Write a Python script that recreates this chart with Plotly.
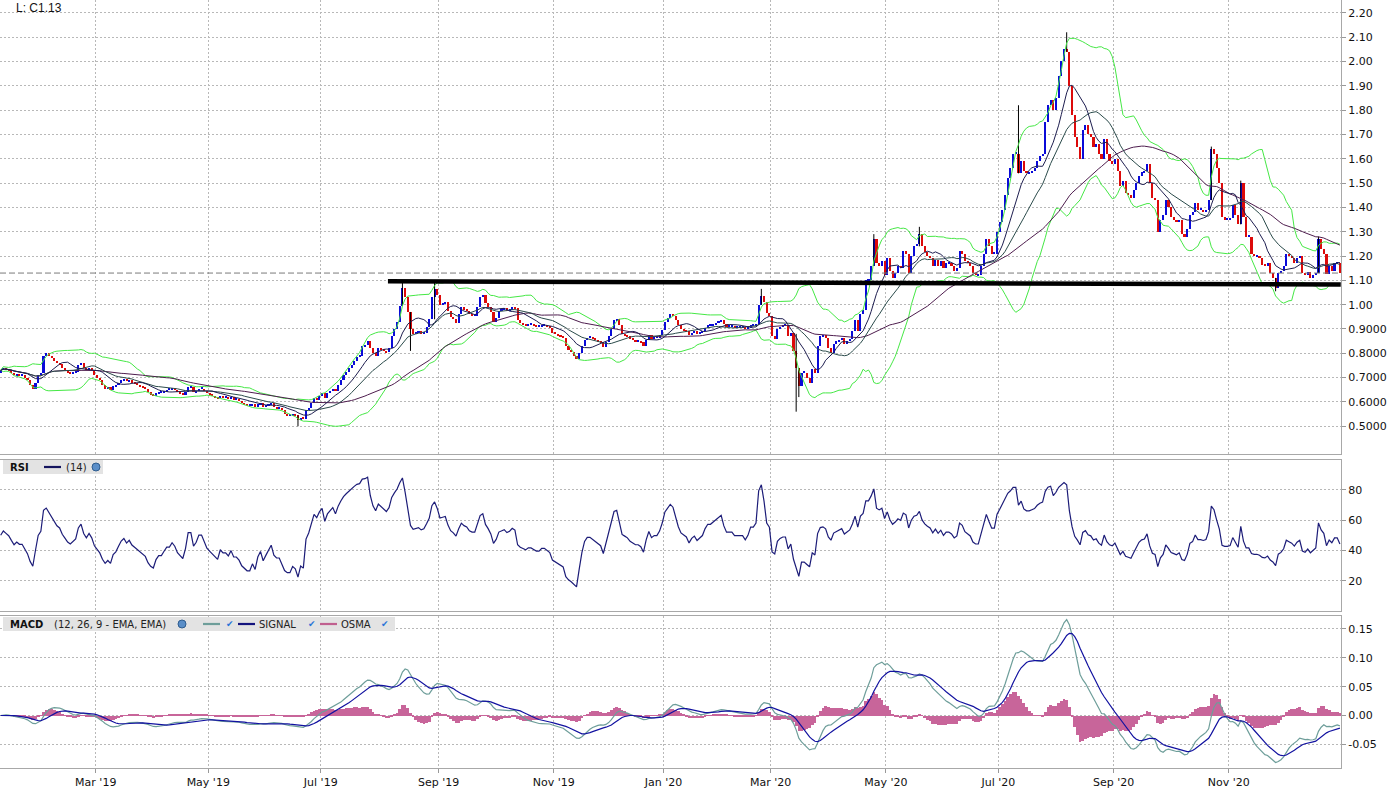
import numpy as np
import pandas as pd
import plotly.graph_objects as go
from plotly.subplots import make_subplots

# ---------------- data (daily closes) ----------------
close_2019_01 = [0.73, 0.74, 0.735, 0.73, 0.72, 0.71, 0.715, 0.71, 0.71, 0.70, 0.69, 0.67, 0.655, 0.68, 0.71, 0.72, 0.79]
close_2019_02 = [0.80, 0.79, 0.78, 0.77, 0.76, 0.755, 0.74, 0.73, 0.72, 0.715, 0.72, 0.725, 0.75, 0.76, 0.74, 0.73, 0.74, 0.73, 0.71]
close_2019_03 = [0.70, 0.69, 0.67, 0.655, 0.66, 0.65, 0.665, 0.67, 0.68, 0.69, 0.695, 0.685, 0.69, 0.68, 0.675, 0.67, 0.665, 0.66, 0.655, 0.64, 0.63]
close_2019_04 = [0.625, 0.635, 0.64, 0.64, 0.645, 0.65, 0.65, 0.655, 0.65, 0.64, 0.635, 0.63, 0.64, 0.66, 0.66, 0.64, 0.645, 0.655, 0.655, 0.645, 0.635]
close_2019_05 = [0.63, 0.625, 0.62, 0.615, 0.625, 0.62, 0.62, 0.615, 0.62, 0.61, 0.61, 0.605, 0.595, 0.59, 0.585, 0.585, 0.59, 0.58, 0.59, 0.595, 0.58, 0.585]
close_2019_06 = [0.59, 0.595, 0.58, 0.575, 0.575, 0.565, 0.55, 0.545, 0.545, 0.55, 0.545, 0.525, 0.535, 0.53, 0.565, 0.575, 0.595, 0.615, 0.61, 0.625]
close_2019_07 = [0.635, 0.615, 0.635, 0.645, 0.655, 0.645, 0.67, 0.69, 0.71, 0.725, 0.74, 0.75, 0.77, 0.785, 0.79, 0.83, 0.835, 0.85, 0.82, 0.80, 0.79, 0.82]
close_2019_08 = [0.815, 0.81, 0.805, 0.82, 0.87, 0.90, 0.93, 0.995, 1.07, 1.03, 0.97, 0.90, 0.88, 0.885, 0.89, 0.88, 0.885, 0.91, 0.94, 1.03, 1.065, 1.04]
close_2019_09 = [1.00, 1.005, 1.01, 0.975, 0.95, 0.94, 0.925, 0.96, 0.99, 0.98, 0.975, 0.96, 0.955, 0.955, 0.99, 1.03, 1.04, 1.005, 0.99, 0.97]
close_2019_10 = [0.93, 0.945, 0.975, 0.98, 0.985, 0.975, 0.98, 0.99, 0.985, 0.935, 0.925, 0.92, 0.915, 0.92, 0.92, 0.915, 0.91, 0.91, 0.915, 0.915, 0.91, 0.905, 0.885]
close_2019_11 = [0.88, 0.875, 0.87, 0.865, 0.83, 0.815, 0.805, 0.79, 0.775, 0.80, 0.83, 0.855, 0.865, 0.865, 0.86, 0.855, 0.85, 0.845, 0.825, 0.845]
close_2019_12 = [0.87, 0.90, 0.935, 0.94, 0.915, 0.88, 0.875, 0.87, 0.86, 0.855, 0.85, 0.85, 0.845, 0.83, 0.855, 0.875, 0.86, 0.865, 0.865, 0.875, 0.895]
close_2020_01 = [0.93, 0.945, 0.96, 0.955, 0.935, 0.915, 0.90, 0.895, 0.89, 0.875, 0.885, 0.89, 0.88, 0.885, 0.89, 0.905, 0.915, 0.915, 0.92, 0.925, 0.93]
close_2020_02 = [0.935, 0.92, 0.91, 0.91, 0.91, 0.905, 0.905, 0.905, 0.905, 0.90, 0.905, 0.915, 0.915, 0.92, 1.00, 1.035, 1.01, 0.965, 0.955]
close_2020_03 = [0.87, 0.86, 0.90, 0.91, 0.915, 0.915, 0.87, 0.885, 0.81, 0.74, 0.665, 0.72, 0.72, 0.70, 0.68, 0.735, 0.72, 0.83, 0.87, 0.875, 0.865, 0.82]
close_2020_04 = [0.80, 0.84, 0.85, 0.855, 0.865, 0.84, 0.85, 0.86, 0.89, 0.935, 0.89, 0.96, 0.98, 1.10, 1.10, 1.16, 1.27, 1.17, 1.16, 1.18, 1.12]
close_2020_05 = [1.19, 1.14, 1.11, 1.13, 1.16, 1.15, 1.22, 1.21, 1.13, 1.20, 1.24, 1.25, 1.29, 1.24, 1.215, 1.20, 1.19, 1.16, 1.185, 1.16]
close_2020_06 = [1.18, 1.15, 1.17, 1.17, 1.16, 1.14, 1.15, 1.22, 1.21, 1.18, 1.17, 1.16, 1.13, 1.12, 1.12, 1.16, 1.21, 1.27, 1.24, 1.21, 1.21, 1.30]
close_2020_07 = [1.34, 1.39, 1.45, 1.52, 1.56, 1.62, 1.62, 1.54, 1.59, 1.55, 1.54, 1.54, 1.55, 1.56, 1.59, 1.61, 1.62, 1.75, 1.82, 1.84, 1.80, 1.85]
close_2020_08 = [1.94, 2.00, 2.05, 2.04, 1.90, 1.78, 1.69, 1.65, 1.60, 1.72, 1.74, 1.70, 1.69, 1.65, 1.66, 1.62, 1.60, 1.68, 1.62, 1.59, 1.58]
close_2020_09 = [1.60, 1.55, 1.49, 1.51, 1.46, 1.45, 1.44, 1.47, 1.50, 1.53, 1.545, 1.55, 1.58, 1.50, 1.44, 1.43, 1.30, 1.35, 1.37, 1.43, 1.40]
close_2020_10 = [1.36, 1.35, 1.34, 1.35, 1.29, 1.28, 1.31, 1.37, 1.38, 1.42, 1.39, 1.39, 1.385, 1.39, 1.43, 1.64, 1.62, 1.56, 1.50, 1.36, 1.35, 1.35]
close_2020_11 = [1.355, 1.41, 1.37, 1.33, 1.50, 1.36, 1.28, 1.28, 1.21, 1.20, 1.20, 1.19, 1.165, 1.16, 1.17, 1.13, 1.11, 1.07, 1.13, 1.14]
close_2020_12 = [1.16, 1.21, 1.20, 1.19, 1.17, 1.19, 1.20, 1.13, 1.12, 1.135, 1.11, 1.12, 1.13, 1.27, 1.23, 1.21, 1.125, 1.16, 1.14, 1.17, 1.17, 1.13]

first_open = 0.72

# notable wicks: date, low, high
wick_dates = ["2019-06-18", "2019-08-13", "2019-08-16", "2019-08-29", "2020-02-25", "2020-03-13",
              "2020-03-16", "2020-04-24", "2020-05-19", "2020-07-13", "2020-08-06", "2020-10-22",
              "2020-11-06", "2020-11-25", "2020-12-18"]
wick_lows = [0.50, 0.995, 0.81, 0.94, 1.00, 0.56, 0.62, 1.16, 1.24, 1.54, 2.04, 1.43, 1.33, 1.055, 1.13]
wick_highs = [0.545, 1.10, 0.97, 1.09, 1.065, 0.88, 0.74, 1.29, 1.32, 1.82, 2.12, 1.65, 1.51, 1.11, 1.28]

# hand-drawn support line
trend_dates = ["2019-08-06 02:00", "2020-12-31 20:00"]
trend_values = [1.096, 1.083]

market_holidays = ["2019-01-21", "2019-02-18", "2019-04-19", "2019-05-27", "2019-07-04", "2019-09-02",
                   "2019-11-28", "2019-12-25", "2020-01-01", "2020-01-20", "2020-02-17", "2020-04-10",
                   "2020-05-25", "2020-07-03", "2020-09-07", "2020-11-26", "2020-12-25", "2021-01-01"]

price_ticks = [0.5, 0.6, 0.7, 0.8, 0.9, 1.0, 1.1, 1.2, 1.3, 1.4, 1.5, 1.6, 1.7, 1.8, 1.9, 2.0, 2.1, 2.2]
price_tick_text = ["0.5000", "0.6000", "0.7000", "0.8000", "0.9000", "1.00", "1.10", "1.20", "1.30",
                   "1.40", "1.50", "1.60", "1.70", "1.80", "1.90", "2.00", "2.10", "2.20"]
rsi_ticks = [20, 40, 60, 80]
macd_ticks = [-0.05, 0.0, 0.05, 0.10, 0.15]
macd_tick_text = ["-0.05", "0.00", "0.05", "0.10", "0.15"]

# ---------------- build series ----------------
closes = np.array(close_2019_01 + close_2019_02 + close_2019_03 + close_2019_04 + close_2019_05 +
                  close_2019_06 + close_2019_07 + close_2019_08 + close_2019_09 + close_2019_10 +
                  close_2019_11 + close_2019_12 + close_2020_01 + close_2020_02 + close_2020_03 +
                  close_2020_04 + close_2020_05 + close_2020_06 + close_2020_07 + close_2020_08 +
                  close_2020_09 + close_2020_10 + close_2020_11 + close_2020_12)
trade_days = pd.bdate_range("2019-01-08", "2021-03-31", freq="C", holidays=market_holidays)
dates = trade_days[:len(closes)] + pd.Timedelta(hours=12)
opens = np.concatenate([[first_open], closes[:-1]])

s = pd.Series(closes)
ma10 = s.rolling(10, min_periods=1).mean()
ma20 = s.rolling(20, min_periods=1).mean()
ma50 = s.rolling(50, min_periods=1).mean()
sd20 = s.rolling(20, min_periods=1).std(ddof=0)
bb_up = ma20 + 2 * sd20
bb_lo = ma20 - 2 * sd20

# RSI (Wilder, 14) - warm-up seeded with the average absolute move of the first weeks
d = np.diff(closes, prepend=closes[0])
seed = np.mean(np.abs(d[1:21])) / 2
ag, al = seed, seed
rsi_vals = []
for v in d:
    ag = (ag * 13 + max(v, 0)) / 14
    al = (al * 13 + max(-v, 0)) / 14
    rsi_vals.append(100 - 100 / (1 + ag / al) if al > 0 else 100)
rsi = np.array(rsi_vals)

ema12 = s.ewm(span=12, adjust=False).mean()
ema26 = s.ewm(span=26, adjust=False).mean()
macd = ema12 - ema26
signal = macd.ewm(span=9, adjust=False).mean()
osma = macd - signal

UP, DOWN = "#0a0ad8", "#dc0a0a"
body_base = np.minimum(opens, closes)
body_h = np.maximum(np.abs(closes - opens), 0.004)
body_col = [UP if c >= o else DOWN for o, c in zip(opens, closes)]

DAY = 86400000

fig = make_subplots(rows=3, cols=1, shared_xaxes=True)

# wicks
wx, wy = [], []
for dd, lo, hi in zip(wick_dates, wick_lows, wick_highs):
    t = pd.Timestamp(dd) + pd.Timedelta(hours=12)
    wx += [t, t, None]
    wy += [lo, hi, None]
fig.add_trace(go.Scatter(x=wx, y=wy, mode="lines", line=dict(color="#000000", width=1),
                         hoverinfo="skip", showlegend=False), row=1, col=1)
# candle bodies
fig.add_trace(go.Bar(x=dates, y=body_h, base=body_base, marker=dict(color=body_col, line=dict(width=0)),
                     width=0.78 * DAY, showlegend=False), row=1, col=1)
# bands and averages
for ser, col in [(bb_up, "#45e845"), (bb_lo, "#45e845"), (ma50, "#4e1d4e"), (ma20, "#2b4b4b"), (ma10, "#1e1e50")]:
    fig.add_trace(go.Scatter(x=dates, y=ser, mode="lines", line=dict(color=col, width=1),
                             showlegend=False, hoverinfo="skip"), row=1, col=1)

# RSI
fig.add_trace(go.Scatter(x=dates, y=rsi, mode="lines", line=dict(color="#1c1c78", width=1.2),
                         showlegend=False), row=2, col=1)

# MACD
fig.add_trace(go.Bar(x=dates, y=osma, marker=dict(color="#c8659a", line=dict(width=0)),
                     width=1.0 * DAY, showlegend=False), row=3, col=1)
fig.add_trace(go.Scatter(x=dates, y=macd, mode="lines", line=dict(color="#6e9e9a", width=1.2),
                         showlegend=False), row=3, col=1)
fig.add_trace(go.Scatter(x=dates, y=signal, mode="lines", line=dict(color="#1212a0", width=1.2),
                         showlegend=False), row=3, col=1)

W, H = 1394, 793
ML, MR, MT, MB = 0, 53, 0, 25
PW = W - ML - MR
PH = H - MT - MB

def fy(py0, py1):
    return [(PH - py1) / PH, (PH - py0) / PH]

P1, P2, P3 = (0, 454), (459.5, 611), (616, 768)

grid = dict(showgrid=True, gridcolor="#b8b8b8", griddash="2px,2px", gridwidth=1)
axfont = dict(family="DejaVu Sans", size=11, color="#111111")

x_range = [dates[0] - pd.Timedelta(hours=6), dates[-1] + pd.Timedelta(hours=10)]
fig.update_xaxes(type="date", range=x_range,
                 rangebreaks=[dict(bounds=["sat", "mon"]), dict(values=market_holidays)],
                 dtick="M2", tick0="2019-01-01", tickformat="%b '%y", **grid,
                 showline=True, mirror=True, linecolor="#a8a8a8", linewidth=1,
                 ticks="", showticklabels=False, tickfont=axfont, zeroline=False)
fig.update_xaxes(row=3, col=1, showticklabels=True, ticks="outside", ticklen=4, tickcolor="#999999")

fig.update_yaxes(side="right", **grid, showline=True, mirror=True, linecolor="#a8a8a8", linewidth=1,
                 ticks="outside", ticklen=4, tickcolor="#999999", tickfont=axfont, zeroline=False)
fig.update_yaxes(row=1, col=1, range=[0.386, 2.2527], tickvals=price_ticks, ticktext=price_tick_text,
                 domain=fy(*P1))
fig.update_yaxes(row=2, col=1, range=[0, 100], tickvals=rsi_ticks, domain=fy(*P2))
fig.update_yaxes(row=3, col=1, range=[-0.091, 0.1725], tickvals=macd_ticks, ticktext=macd_tick_text,
                 domain=fy(*P3))

shapes = []
annotations = []

# last price dashed line + support line
shapes.append(dict(type="line", xref="x domain", yref="y", x0=0, x1=1, y0=closes[-1], y1=closes[-1],
                   line=dict(color="#7a7a7a", width=1, dash="6px,3px")))
shapes.append(dict(type="line", xref="x", yref="y", x0=trend_dates[0], x1=trend_dates[1],
                   y0=trend_values[0], y1=trend_values[1], line=dict(color="#000000", width=4.5)))

annotations.append(dict(xref="x domain", yref="y domain", x=14 / PW, y=1 - 8 / 454, xanchor="left",
                        yanchor="middle", text="L: C%.2f" % closes[-1], showarrow=False,
                        font=dict(family="Liberation Sans", size=12, color="#111111")))

def hx(px):
    return px / PW

def hy(panel, py):
    a, b = panel
    return (b - py) / (b - a)

def header(panel, yref, x1px, yc, items):
    a = panel
    shapes.append(dict(type="rect", xref="x domain", yref=yref, x0=hx(3), x1=hx(x1px),
                       y0=hy(a, yc + 7), y1=hy(a, yc - 7), fillcolor="#e3e3e3", line=dict(width=0),
                       layer="above"))
    for kind, xp, val, col in items:
        if kind == "text" or kind == "bold":
            annotations.append(dict(xref="x domain", yref=yref, x=hx(xp), y=hy(a, yc), xanchor="left",
                                    yanchor="middle", showarrow=False,
                                    text=("<b>%s</b>" % val) if kind == "bold" else val,
                                    font=dict(family="DejaVu Sans", size=10, color=col)))
        elif kind == "line":
            shapes.append(dict(type="line", xref="x domain", yref=yref, x0=hx(xp), x1=hx(xp + val),
                               y0=hy(a, yc), y1=hy(a, yc), line=dict(color=col, width=2.2), layer="above"))
        elif kind == "globe":
            shapes.append(dict(type="circle", xref="x domain", yref=yref, x0=hx(xp - 4), x1=hx(xp + 4),
                               y0=hy(a, yc + 4), y1=hy(a, yc - 4), fillcolor="#5a8ec8",
                               line=dict(color="#2f5d8f", width=1), layer="above"))
        elif kind == "check":
            annotations.append(dict(xref="x domain", yref=yref, x=hx(xp), y=hy(a, yc), xanchor="left",
                                    yanchor="middle", showarrow=False, text="\u2714",
                                    font=dict(family="DejaVu Sans", size=9, color="#2a74d8")))

header(P2, "y2 domain", 103, 467,
       [("bold", 8, "RSI", "#111111"), ("line", 44, 17, "#14145e"), ("text", 64, "(14)", "#222222"),
        ("globe", 96, None, None)])
header(P3, "y3 domain", 395, 624,
       [("bold", 8, "MACD", "#111111"), ("text", 52, "(12, 26, 9 - EMA, EMA)", "#222222"),
        ("globe", 182, None, None), ("line", 203, 17, "#6e9e9a"), ("check", 224, None, None),
        ("line", 238, 17, "#14147e"), ("text", 257, "SIGNAL", "#222222"), ("check", 306, None, None),
        ("line", 320, 17, "#c0608f"), ("text", 339, "OSMA", "#222222"), ("check", 379, None, None)])

fig.update_layout(width=W, height=H, margin=dict(l=ML, r=MR, t=MT, b=MB, pad=0),
                  paper_bgcolor="#ffffff", plot_bgcolor="#ffffff", showlegend=False,
                  barmode="overlay", bargap=0, shapes=shapes, annotations=annotations,
                  hovermode=False, font=dict(family="DejaVu Sans", size=11, color="#111111"))

fig.write_html("out.html", config={"displayModeBar": False},
               post_script="document.body.style.margin='0px';document.body.style.overflow='hidden';")
